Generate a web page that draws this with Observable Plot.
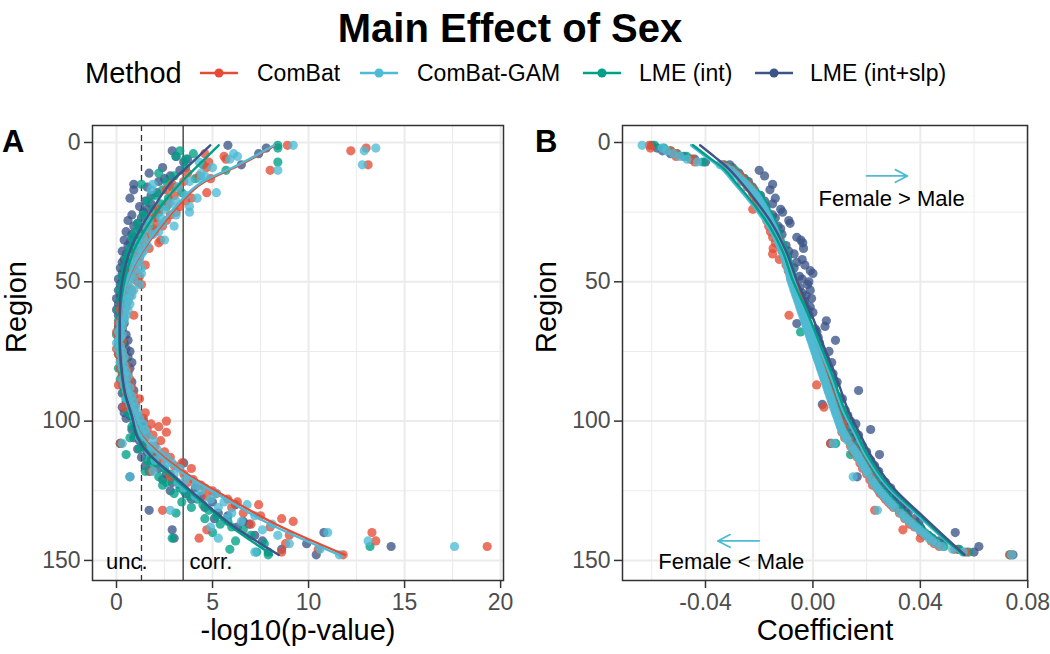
<!DOCTYPE html>
<html>
<head>
<meta charset="utf-8">
<script src="https://cdn.jsdelivr.net/npm/d3@7"></script>
<script src="https://cdn.jsdelivr.net/npm/@observablehq/plot@0.6"></script>
<style>
  body { margin: 0; background: #fff; font-family: "Liberation Sans", Arial, sans-serif; }
  #wrap { position: relative; width: 1050px; height: 654px; overflow: hidden; background: #fff; }
  #panelA, #panelB { position: absolute; top: 110px; }
  #panelA { left: 0; }
  #panelB { left: 525px; }
  #overlay { position: absolute; left: 0; top: 0; pointer-events: none; }
</style>
</head>
<body>
<div id="wrap">
  <div id="panelA"></div>
  <div id="panelB"></div>
  <svg id="overlay" width="1050" height="654" font-family="'Liberation Sans', Arial, sans-serif"></svg>
</div>
<script>
// ---------------- DATA ----------------
const methods = ["ComBat", "ComBat-GAM", "LME (int)", "LME (int+slp)"];
const palette = ["#E64B35", "#4DBBD5", "#00A087", "#3C5488"];

// Region index (1..148)
const regions = d3.range(1, 149);

// Panel A: -log10(p-value) per region
const nlpComBat = [
  8.9,13.0,12.2,4.6,5.6,5.7,4.8,13.1,4.7,8.0,
  3.7,4.3,4.9,3.5,2.9,3.2,2.6,4.7,3.0,3.9,
  3.6,2.7,3.3,2.2,3.1,2.8,1.9,2.6,2.1,2.4,
  1.6,2.0,1.8,1.5,2.3,2.2,1.4,1.7,1.3,1.0,
  1.2,0.9,1.1,1.5,0.8,1.0,0.7,1.2,0.9,1.1,
  1.3,0.6,0.8,0.5,0.7,0.4,0.6,0.3,0.5,0.2,
  0.4,0.9,0.3,0.2,0.1,0.3,0.2,0.0,0.2,0.1,
  0.3,0.1,0.2,0.0,0.3,0.1,0.4,0.2,0.3,0.5,
  0.2,0.6,0.4,0.3,0.7,0.4,0.1,0.8,0.6,0.5,
  0.9,1.2,0.7,1.0,0.4,0.9,1.5,1.1,1.4,2.6,
  1.8,2.2,1.6,2.6,1.9,1.5,2.3,0.2,2.0,1.7,
  2.5,2.1,2.8,2.4,3.4,3.0,3.9,1.8,3.5,2.8,
  4.0,3.7,4.4,4.6,5.0,5.2,4.7,5.8,6.3,7.4,
  6.0,2.4,6.6,7.5,8.6,9.2,7.0,8.0,4.7,13.3,
  9.0,4.3,13.5,8.8,19.3,10.5,8.6,11.8
];
const nlpComBatGAM = [
  9.2,13.5,12.9,6.1,6.3,5.9,4.3,12.8,5.0,8.4,
  4.4,4.6,4.4,3.8,1.9,3.2,1.8,5.2,3.6,4.2,
  3.1,2.8,3.8,2.5,3.8,3.1,2.3,1.7,2.4,3.0,
  1.6,2.2,1.9,1.4,2.5,1.2,1.6,1.1,1.4,1.3,
  0.9,1.2,1.0,0.8,1.3,0.9,1.3,0.7,0.9,0.6,
  1.2,0.7,0.9,0.5,0.8,0.6,0.5,0.7,0.4,0.6,
  0.4,0.5,0.3,0.4,0.2,0.3,0.2,0.1,0.3,0.2,
  0.1,0.0,0.2,0.1,0.3,0.2,0.4,0.3,0.2,0.4,
  0.3,0.5,0.4,0.6,0.3,0.5,0.4,0.7,0.5,0.6,
  0.8,0.5,0.9,0.7,1.0,0.8,1.1,0.9,1.2,1.0,
  1.4,1.1,1.5,1.3,1.6,1.2,1.9,0.3,1.8,2.1,
  1.7,2.3,2.6,2.0,2.9,2.5,3.3,1.9,3.0,0.7,
  3.6,3.2,4.1,3.5,4.4,5.2,4.1,4.9,5.6,6.8,
  5.3,2.8,6.0,7.2,5.7,6.5,8.1,4.9,7.6,11.0,
  8.4,5.3,13.1,9.0,17.6,10.6,7.2,11.6
];
const nlpLMEint = [
  8.4,8.4,3.3,4.0,3.1,3.6,8.4,4.5,3.6,5.7,
  2.2,3.0,4.1,2.6,1.3,2.9,2.4,3.4,2.0,2.7,
  1.6,2.3,2.6,1.9,2.2,1.4,2.0,1.7,1.1,1.5,
  1.9,1.0,1.3,0.8,1.2,0.9,1.0,0.7,0.9,0.6,
  0.8,0.5,0.7,0.6,0.4,0.6,0.5,0.3,0.5,0.4,
  0.3,0.5,0.2,0.4,0.3,0.5,0.2,0.4,0.3,0.1,
  0.3,0.2,0.4,0.1,0.2,0.3,0.1,0.2,0.0,0.2,
  0.1,0.3,0.1,0.2,0.3,0.1,0.2,0.4,0.2,0.3,
  0.1,0.4,0.3,0.5,0.2,0.4,0.3,0.5,0.6,0.4,
  0.7,0.5,0.6,0.8,0.7,0.9,0.6,0.8,1.0,0.9,
  1.1,0.8,1.2,1.4,1.0,0.7,1.3,0.2,1.5,1.2,
  1.7,0.5,1.9,1.6,2.1,1.8,2.5,1.5,2.8,2.2,
  3.0,2.6,2.4,3.3,3.5,3.0,3.8,4.2,3.4,4.5,
  3.9,4.8,3.1,5.2,4.6,5.8,5.4,6.0,6.6,5.0,
  7.0,2.9,6.2,7.7,13.2,5.9,7.3,7.9
];
const nlpLMEintslp = [
  5.8,7.8,2.9,7.4,3.1,3.7,3.5,6.5,2.4,3.3,
  1.7,2.8,2.5,2.2,0.9,1.6,0.9,2.1,1.8,0.7,
  1.5,1.8,1.2,1.6,1.4,0.8,1.3,0.6,1.1,0.9,
  1.2,0.5,0.8,0.9,0.4,0.7,0.6,0.9,0.3,0.5,
  0.7,0.4,0.3,0.6,0.2,0.4,0.3,0.5,0.1,0.3,
  0.2,0.4,0.1,0.3,0.2,0.0,0.2,0.1,0.3,0.0,
  0.2,0.1,0.3,0.2,0.4,0.1,0.3,0.2,0.5,0.3,
  0.6,0.4,0.2,0.5,0.7,0.4,0.6,0.3,0.8,0.5,
  0.7,0.4,0.6,0.3,0.5,0.8,0.6,0.4,0.9,0.3,
  0.6,0.8,0.5,0.9,0.3,0.6,0.4,0.7,0.5,1.4,
  1.0,1.3,0.8,1.1,1.5,0.9,1.2,0.2,1.4,1.1,
  1.6,2.0,1.3,1.8,3.5,1.5,2.2,1.7,2.6,0.7,
  2.4,2.9,3.3,4.1,2.8,3.6,4.4,3.9,5.0,6.2,
  4.6,1.7,5.3,5.8,5.1,6.6,6.9,6.3,2.9,10.8,
  7.2,3.0,7.6,9.9,14.3,8.6,7.9,10.4
];

// Panel B: coefficient per region, in units of 1e-4
const coefComBat_e4 = [
  -609,-605,-530,-510,-510,-450,-440,-335,-318,-300,
  -290,-270,-262,-265,-240,-245,-222,-226,-220,-212,
  -210,-200,-198,-224,-185,-180,-170,-172,-160,-165,
  -150,-158,-140,-150,-128,-140,-125,-148,-115,-150,
  -108,-125,-98,-100,-90,-92,-84,-80,-82,-70,
  -72,-68,-66,-60,-60,-54,-52,-48,-44,-40,
  -38,-89,-30,-28,-24,-20,-18,-14,-10,-8,
  -4,0,4,6,10,14,16,20,24,28,
  30,35,38,42,44,50,14,56,58,64,
  66,70,72,78,41,84,88,92,96,100,
  110,104,112,108,122,118,135,66,140,155,
  150,168,165,180,175,192,185,204,200,215,
  212,228,222,238,245,250,262,270,280,290,
  300,230,322,340,342,365,360,378,335,402,
  415,400,440,452,470,528,570,735
];
const coefComBatGAM_e4 = [
  -636,-562,-545,-520,-495,-468,-430,-345,-322,-305,
  -293,-281,-270,-259,-249,-239,-229,-220,-212,-205,
  -199,-193,-187,-181,-176,-171,-166,-161,-156,-151,
  -146,-142,-138,-134,-130,-126,-122,-118,-114,-110,
  -106,-102,-99,-96,-93,-90,-87,-85,-83,-80,
  -77,-73,-70,-66,-63,-59,-56,-52,-49,-45,
  -42,-38,-35,-31,-28,-24,-21,-17,-14,-10,
  -7,-3,0,4,7,11,14,18,21,25,
  28,32,35,39,42,46,49,53,56,60,
  63,67,70,74,77,81,84,88,92,95,
  99,103,107,112,118,124,130,75,143,150,
  157,164,170,176,182,188,194,200,206,150,
  218,225,232,240,248,257,266,275,285,295,
  305,240,326,337,348,360,372,384,396,408,
  420,432,445,460,480,520,560,740
];
const coefLMEint_e4 = [
  -590,-555,-530,-505,-470,-455,-410,-330,-310,-290,
  -285,-270,-255,-250,-238,-230,-218,-212,-200,-198,
  -190,-185,-178,-175,-168,-165,-158,-155,-148,-145,
  -138,-136,-130,-128,-122,-120,-114,-112,-106,-104,
  -98,-96,-90,-90,-84,-84,-78,-78,-74,-72,
  -68,-66,-62,-58,-55,-52,-48,-45,-41,-38,
  -34,-31,-27,-24,-20,-17,-13,-46,-6,-2,
  1,5,8,12,15,19,22,26,29,33,
  36,40,43,47,50,54,57,61,64,68,
  71,75,78,82,85,89,93,96,100,104,
  108,112,116,121,126,132,138,85,150,157,
  164,140,178,184,190,196,202,208,214,220,
  226,233,240,248,256,265,274,283,293,303,
  313,323,334,345,356,368,380,392,404,416,
  428,440,453,468,488,545,580,732
];
const coefLMEintslp_e4 = [
  -600,-580,-560,-530,-480,-440,-400,-310,-300,-200,
  -275,-180,-255,-240,-150,-225,-160,-215,-195,-140,
  -180,-150,-175,-120,-113,-150,-140,-90,-85,-130,
  -120,-135,-115,-60,-45,-38,-100,-35,-90,-70,
  -95,-40,-60,-30,-70,-10,0,-50,-40,-15,
  -20,-50,-10,-40,-25,-5,-30,-35,-10,-20,
  0,-15,-25,50,-60,45,10,15,5,20,
  84,25,15,30,60,35,45,40,70,50,
  60,55,75,50,70,90,80,65,170,75,
  90,110,95,35,100,120,105,130,115,140,
  160,135,215,150,170,145,165,66,185,175,
  200,248,195,215,210,230,220,245,240,165,
  255,270,265,290,280,300,310,320,305,335,
  330,345,355,350,380,395,385,400,405,530,
  430,445,470,480,618,540,600,745
];

// Smooth (fitted) curves
const smoothRegionsA = [1,8,14,22,30,38,46,52,60,70,80,90,98,106,112,118,127,137,148];
const smoothA_ComBat      = [8.27,6.45,4.6,3.3,2.33,1.45,0.78,0.45,0.25,0.2,0.28,0.5,0.85,1.4,2.3,3.45,5.67,8.3,11.9];
const smoothA_ComBatGAM   = [8.2,6.35,4.5,3.2,2.25,1.4,0.75,0.45,0.25,0.2,0.28,0.5,0.85,1.35,2.2,3.3,5.45,8.0,11.6];
const smoothA_LMEint      = [5.32,4.28,3.4,2.4,1.6,0.95,0.55,0.35,0.2,0.15,0.22,0.42,0.78,1.15,1.75,2.6,4.1,5.8,8.1];
const smoothA_LMEintslp   = [4.88,3.8,2.88,2.05,1.32,0.75,0.4,0.25,0.17,0.17,0.25,0.45,0.8,1.1,1.7,2.7,4.2,5.95,8.45];

const smoothRegionsB = [1,5,9,15,20,30,39,49,61,73,85,97,104,112,124,134,143,148];
const smoothB_ComBat_e4    = [-450,-396,-341,-286,-242,-166,-117,-81,-25,25,74,119,156,198,285,396,498,557];
const smoothB_ComBatGAM_e4 = [-454,-400,-345,-290,-246,-170,-121,-85,-29,21,70,115,152,194,281,392,495,555];
const smoothB_LMEint_e4    = [-446,-392,-337,-282,-238,-162,-113,-77,-21,29,78,123,160,202,289,400,500,560];
const smoothB_LMEintslp_e4 = [-420,-368,-318,-262,-220,-147,-100,-62,-8,40,90,135,172,214,300,408,508,565];

// Thresholds and annotations
const uncThreshold = 1.301;   // -log10(0.05)
const corrThreshold = 3.47;   // -log10(0.05/148)
const annotA_text = ["unc.", "corr."];
const annotA_x = [-0.55, 3.8];
const annotA_y = [150.7, 150.7];
const annotB_text = ["Female > Male", "Female < Male"];
const annotB_x = [0.0293, -0.0304];
const annotB_y = [20.4, 150.4];
const arrowB_x1 = [0.0200, -0.0200];
const arrowB_x2 = [0.0352, -0.0354];
const arrowB_y = [12, 143];

// Tick values
const xMajorA = [0, 5, 10, 15, 20];
const xMinorA = [2.5, 7.5, 12.5, 17.5];
const xMajorB = [-0.04, 0, 0.04, 0.08];
const xMinorB = [-0.06, -0.02, 0.02, 0.06];
const yMajor = [0, 50, 100, 150];
const yMinor = [25, 75, 125];

// ---------------- TABLES ----------------
const nlpAll = [nlpComBat, nlpComBatGAM, nlpLMEint, nlpLMEintslp];
const coefAll = [coefComBat_e4, coefComBatGAM_e4, coefLMEint_e4, coefLMEintslp_e4];
const smAAll = [smoothA_ComBat, smoothA_ComBatGAM, smoothA_LMEint, smoothA_LMEintslp];
const smBAll = [smoothB_ComBat_e4, smoothB_ComBatGAM_e4, smoothB_LMEint_e4, smoothB_LMEintslp_e4];
[...nlpAll, ...coefAll].forEach((a, i) => { if (a.length !== regions.length) console.error("length mismatch", i, a.length); });

// points drawn with LME (int+slp) underneath and ComBat-GAM on top
const dotOrder = [3, 2, 0, 1];
const pointsA = dotOrder.flatMap(i => nlpAll[i].map((v, j) => ({method: methods[i], region: regions[j], value: v})));
const pointsB = dotOrder.flatMap(i => coefAll[i].map((v, j) => ({method: methods[i], region: regions[j], value: v / 1e4})));
const linesA = methods.flatMap((m, i) => smAAll[i].map((v, j) => ({method: m, region: smoothRegionsA[j], value: v})));
const linesB = methods.flatMap((m, i) => smBAll[i].map((v, j) => ({method: m, region: smoothRegionsB[j], value: v / 1e4})));
const annotA = annotA_text.map((t, i) => ({label: t, x: annotA_x[i], y: annotA_y[i]}));
const annotB = annotB_text.map((t, i) => ({label: t, x: annotB_x[i], y: annotB_y[i]}));
const arrowsB = arrowB_y.map((y, i) => ({x1: arrowB_x1[i], x2: arrowB_x2[i], y}));

// ---------------- PLOTS ----------------
const FONT = "'Liberation Sans', Arial, sans-serif";
const GRID = "#EBEBEB";
const common = {
  width: 525, height: 544,
  marginTop: 15, marginBottom: 74,
  style: {fontFamily: FONT, background: "transparent", overflow: "visible"},
  y: {domain: [-6.1, 157.2], reverse: true},
  color: {domain: methods, range: palette}
};

function panel(opts) {
  const {xDomain, xMajor, xMinor, points, lines, extra, xLabel, marginLeft, marginRight, tickFormat} = opts;
  return Plot.plot({
    ...common,
    marginLeft, marginRight,
    x: {domain: xDomain},
    marks: [
      Plot.gridX(xMinor, {stroke: GRID, strokeOpacity: 1, strokeWidth: 1}),
      Plot.gridY(yMinor, {stroke: GRID, strokeOpacity: 1, strokeWidth: 1}),
      Plot.gridX(xMajor, {stroke: GRID, strokeOpacity: 1, strokeWidth: 2}),
      Plot.gridY(yMajor, {stroke: GRID, strokeOpacity: 1, strokeWidth: 2}),
      ...extra.before,
      Plot.dot(points, {x: "value", y: "region", fill: "method", r: 4.6, fillOpacity: 0.78, stroke: "none"}),
      Plot.line(lines, {x: "value", y: "region", z: "method", stroke: "method", strokeWidth: 2.4, curve: "monotone-y"}),
      ...extra.after,
      Plot.frame({stroke: "#333333", strokeWidth: 1.5}),
      Plot.axisX(xMajor, {tickSize: 8, tickPadding: 5, fontSize: 23, stroke: "#333333", strokeWidth: 1.5, fill: "#4D4D4D", label: null, tickFormat}),
      Plot.axisY(yMajor, {tickSize: 8, tickPadding: 4, fontSize: 23, stroke: "#333333", strokeWidth: 1.5, fill: "#4D4D4D", label: null}),
      Plot.text([xLabel], {frameAnchor: "bottom", dy: 59, fontSize: 29, fill: "black"}),
      Plot.text(["Region"], {frameAnchor: "left", dx: -76, rotate: -90, fontSize: 29, fill: "black"})
    ]
  });
}

const plotA = panel({
  xDomain: [-1.25, 20.15], xMajor: xMajorA, xMinor: xMinorA,
  points: pointsA, lines: linesA, xLabel: "-log10(p-value)",
  marginLeft: 92, marginRight: 22, tickFormat: d => String(d),
  extra: {
    before: [
      Plot.ruleX([uncThreshold], {stroke: "#333333", strokeWidth: 1.3, strokeDasharray: "6,4"}),
      Plot.ruleX([corrThreshold], {stroke: "#333333", strokeWidth: 1.3})
    ],
    after: [
      Plot.text(annotA, {x: "x", y: "y", text: "label", textAnchor: "start", fontSize: 22, fill: "black"})
    ]
  }
});
document.getElementById("panelA").appendChild(plotA);

const plotB = panel({
  xDomain: [-0.0709, 0.0799], xMajor: xMajorB, xMinor: xMinorB,
  points: pointsB, lines: linesB, xLabel: "Coefficient",
  marginLeft: 97, marginRight: 23, tickFormat: d => d.toFixed(2),
  extra: {
    before: [],
    after: [
      Plot.arrow(arrowsB, {x1: "x1", y1: "y", x2: "x2", y2: "y", stroke: "#4DBBD5", strokeWidth: 1.8, headLength: 14, headAngle: 55}),
      Plot.text(annotB, {x: "x", y: "y", text: "label", fontSize: 22, fill: "black"})
    ]
  }
});
document.getElementById("panelB").appendChild(plotB);

// ---------------- TITLE, LEGEND, PANEL TAGS ----------------
const ov = d3.select("#overlay");
ov.append("text").attr("x", 510).attr("y", 42).attr("text-anchor", "middle")
  .attr("font-weight", "bold").attr("font-size", 40).text("Main Effect of Sex");
ov.append("text").attr("x", 85).attr("y", 83).attr("font-size", 29).text("Method");
const keyX = [200, 360, 583, 755];
const labX = [257, 417, 639, 810];
methods.forEach((m, i) => {
  ov.append("line").attr("x1", keyX[i]).attr("x2", keyX[i] + 38).attr("y1", 73).attr("y2", 73)
    .attr("stroke", palette[i]).attr("stroke-width", 2.5);
  ov.append("circle").attr("cx", keyX[i] + 19).attr("cy", 73).attr("r", 4.5).attr("fill", palette[i]);
  ov.append("text").attr("x", labX[i]).attr("y", 81).attr("font-size", 23).text(m);
});
ov.append("text").attr("x", 2).attr("y", 152).attr("font-weight", "bold").attr("font-size", 31).text("A");
ov.append("text").attr("x", 535).attr("y", 152).attr("font-weight", "bold").attr("font-size", 31).text("B");
</script>
</body>
</html>
